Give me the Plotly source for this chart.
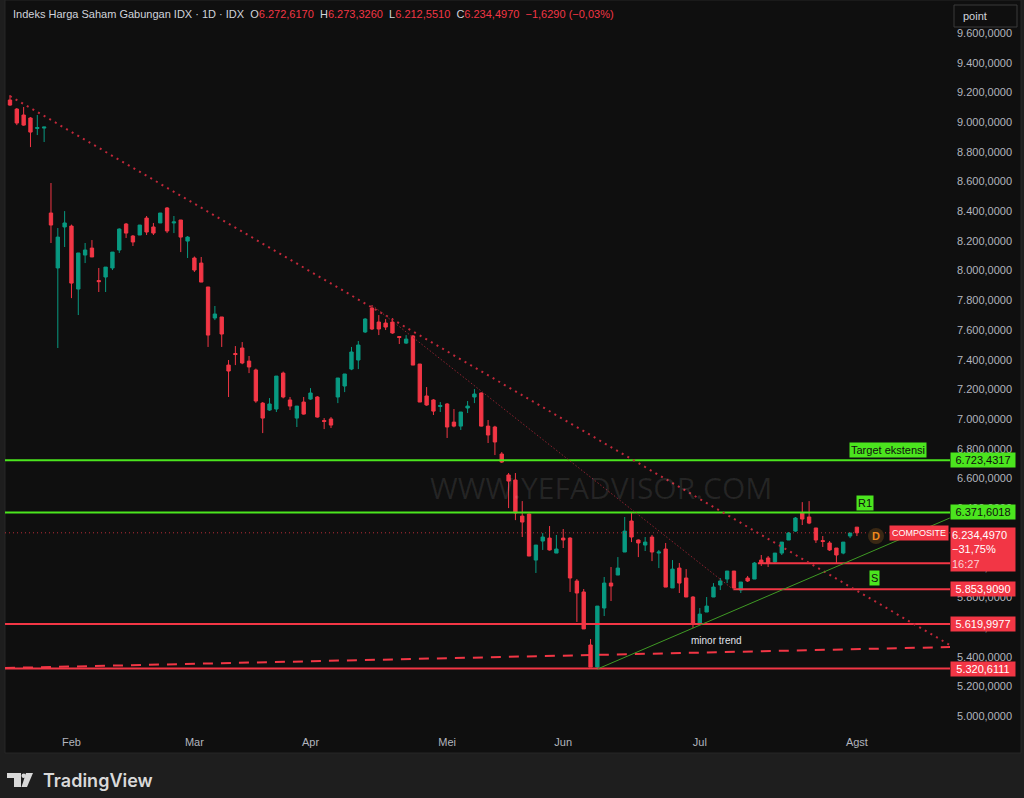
import plotly.graph_objects as go

# ---- data (IHSG daily) ----
opens = [9149, 9088, 9048, 9028, 8957, 8960, 8388, 8018, 8294, 8300,
         7876, 8105, 8152, 7933, 7957, 8018, 8139, 8314, 8233, 8240,
         8354, 8294, 8321, 8422, 8321, 8341, 8199, 8085, 8051, 7890,
         7681, 7688, 7364, 7442, 7479, 7391, 7331, 7108, 7061, 7068,
         7310, 7129, 7007, 7115, 7135, 7149, 6991, 7001, 7149, 7223,
         7337, 7398, 7587, 7748, 7654, 7647, 7654, 7556, 7512, 7560,
         7371, 7156, 7129, 7085, 7102, 6980, 6953, 7075, 7149, 7176,
         6953, 6947, 6765, 6624, 6590, 6347, 6361, 6051, 6179, 6199,
         6098, 6199, 6199, 5910, 5836, 5479, 5330, 5728, 5896, 5950,
         6105, 6314, 6186, 6152, 6206, 6098, 6125, 5863, 5997, 5930,
         5802, 5627, 5701, 5802, 5883, 5923, 5977, 5849, 5930, 5923,
         6051, 6065, 6038, 6098, 6186, 6246, 6368, 6341, 6267, 6182,
         6166, 6132, 6098, 6213, 6272.617]
highs = [9182, 9095, 9102, 9034, 9048, 8967, 8590, 8287, 8401, 8310,
         8119, 8186, 8206, 8018, 8024, 8125, 8285, 8321, 8240, 8307,
         8368, 8321, 8388, 8428, 8368, 8341, 8233, 8095, 8092, 7890,
         7762, 7688, 7398, 7492, 7519, 7425, 7340, 7115, 7142, 7290,
         7320, 7149, 7088, 7149, 7209, 7155, 7007, 7014, 7277, 7304,
         7486, 7526, 7680, 7768, 7701, 7674, 7681, 7556, 7566, 7566,
         7371, 7216, 7135, 7115, 7108, 7068, 7048, 7122, 7203, 7180,
         6994, 6955, 6778, 6637, 6637, 6448, 6365, 6152, 6233, 6280,
         6220, 6260, 6205, 5923, 5856, 5519, 5741, 5937, 6004, 6071,
         6341, 6368, 6190, 6206, 6220, 6119, 6166, 6051, 6031, 5990,
         5808, 5728, 5802, 5896, 5930, 5977, 5977, 5903, 5944, 6038,
         6085, 6078, 6098, 6172, 6240, 6341, 6441, 6448, 6267, 6213,
         6179, 6132, 6172, 6233, 6273.326]
lows = [9110, 8980, 8975, 8832, 8913, 8866, 8186, 7479, 8159, 7815,
        7701, 8051, 8092, 7856, 7856, 8004, 8119, 8220, 8166, 8240,
        8240, 8240, 8321, 8253, 8253, 8125, 8085, 7991, 7923, 7486,
        7667, 7486, 7149, 7364, 7370, 7310, 7110, 6906, 7055, 7048,
        7140, 7061, 6947, 7030, 7130, 7010, 6933, 6940, 7108, 7182,
        7330, 7337, 7580, 7600, 7566, 7600, 7575, 7506, 7506, 7364,
        7115, 7090, 7028, 7048, 6873, 6945, 6927, 7041, 7108, 6950,
        6839, 6758, 6705, 6401, 6320, 6206, 6078, 5964, 6119, 6115,
        6098, 6132, 5836, 5634, 5587, 5330, 5317, 5674, 5775, 5950,
        6105, 6172, 6071, 6112, 6044, 5997, 5869, 5863, 5829, 5802,
        5593, 5620, 5701, 5802, 5849, 5896, 5863, 5829, 5903, 5923,
        6011, 6004, 6031, 6085, 6186, 6240, 6287, 6293, 6166, 6139,
        6112, 6031, 6090, 6199, 6212.551]
closes = [9115, 8994, 8980, 8933, 8964, 8967, 8307, 8226, 8321, 7916,
          8119, 8139, 8092, 7926, 8024, 8125, 8280, 8253, 8193, 8307,
          8260, 8253, 8388, 8267, 8328, 8226, 8226, 8004, 7923, 7566,
          7708, 7573, 7324, 7435, 7378, 7351, 7122, 7007, 7102, 7290,
          7149, 7088, 7088, 7034, 7176, 7014, 6984, 6960, 7277, 7304,
          7452, 7499, 7674, 7607, 7607, 7620, 7580, 7550, 7539, 7364,
          7115, 7095, 7054, 7092, 6947, 6953, 7048, 7088, 7169, 6953,
          6893, 6846, 6711, 6583, 6368, 6307, 6078, 6152, 6206, 6119,
          6125, 6186, 5930, 5829, 5587, 5330, 5741, 5896, 5876, 5997,
          6246, 6206, 6166, 6172, 6105, 6105, 5869, 5990, 5896, 5802,
          5627, 5687, 5741, 5869, 5910, 5977, 5863, 5903, 5910, 6031,
          6031, 6031, 6098, 6172, 6233, 6334, 6327, 6300, 6186, 6176,
          6119, 6085, 6172, 6233, 6234.497]

months = ["Feb", "Mar", "Apr", "Mei", "Jun", "Jul", "Agst"]
month_start = [9, 27, 44, 64, 81, 101, 124]

green_levels = [6723.4317, 6371.6018]
red_levels = [5619.9977, 5320.6111]
support_level = 5853.9090
support_level_2 = 6029
last_price = 6234.497

y_ticks = list(range(5000, 9601, 200))

# ---- layout helpers ----
W, H = 1024, 798
ML, MR, MT, MB = 5, 74, 28, 70
PW, PH = W - ML - MR, H - MT - MB
X_RANGE = [-0.73, 137.63]
Y_RANGE = [4920, 9634]

RED = "#f23645"
GREEN_C = "#089981"
LIME = "#4be51e"
GREY = "#b2b5be"
FONT = "Liberation Sans, Arial, sans-serif"


def px_x(p):
    return (p - ML) / PW


def px_y(p):
    return (H - MB - p) / PH


def idn(v, d=4):
    s = f"{v:,.{d}f}"
    return s.replace(",", "_").replace(".", ",").replace("_", ".")


def label(px, py, text, size=11, color="#d1d4dc", xa="center", **kw):
    # text placed by pixel position, anchors fixed (paper 'auto' anchors shift it)
    return dict(xref="paper", yref="paper", x=px_x(px), y=px_y(py), text=text,
                xanchor=xa, yanchor="middle", showarrow=False,
                font=dict(family=kw.pop("family", FONT), size=size, color=color,
                          weight=kw.pop("weight", "normal")), **kw)


x = list(range(len(opens)))

fig = go.Figure()
fig.add_trace(go.Candlestick(
    x=x, open=opens, high=highs, low=lows, close=closes,
    increasing=dict(line=dict(color=GREEN_C, width=1), fillcolor=GREEN_C),
    decreasing=dict(line=dict(color=RED, width=1), fillcolor=RED),
    whiskerwidth=0, showlegend=False, hoverinfo="skip",
))

shapes = []
# chart panel
shapes.append(dict(type="rect", xref="paper", yref="paper", layer="below",
                   x0=px_x(5), x1=px_x(1021), y0=px_y(0), y1=px_y(753),
                   fillcolor="#0f0f0f", line=dict(color="#262626", width=1)))
# "point" box
shapes.append(dict(type="rect", xref="paper", yref="paper",
                   x0=px_x(954), x1=px_x(1017), y0=px_y(5), y1=px_y(27),
                   fillcolor="#0f0f0f", line=dict(color="#3a3a3a", width=1)))

for lv in green_levels:
    shapes.append(dict(type="line", xref="x", yref="y", x0=X_RANGE[0], x1=X_RANGE[1],
                       y0=lv, y1=lv, line=dict(color=LIME, width=2)))
for lv in red_levels:
    shapes.append(dict(type="line", xref="x", yref="y", x0=X_RANGE[0], x1=X_RANGE[1],
                       y0=lv, y1=lv, line=dict(color=RED, width=2)))
shapes.append(dict(type="line", xref="x", yref="y", x0=105.9, x1=X_RANGE[1],
                   y0=support_level, y1=support_level, line=dict(color=RED, width=2)))
shapes.append(dict(type="line", xref="x", yref="y", x0=109.5, x1=X_RANGE[1],
                   y0=support_level_2, y1=support_level_2, line=dict(color=RED, width=2)))
# last price line
shapes.append(dict(type="line", xref="x", yref="y", x0=X_RANGE[0], x1=X_RANGE[1],
                   y0=last_price, y1=last_price,
                   line=dict(color="rgba(242,54,69,0.75)", width=1, dash="1px,3px")))
# main downtrend (dotted)
shapes.append(dict(type="line", xref="x", yref="y", x0=0, x1=137.6, y0=9176, y1=5479,
                   line=dict(color="#c2283a", width=2, dash="2px,4.5px")))
# secondary fine downtrend
shapes.append(dict(type="line", xref="x", yref="y", x0=53, x1=106, y0=7768, y1=5849,
                   line=dict(color="#8e2230", width=1, dash="1.5px,2px")))
# dashed long-term line
shapes.append(dict(type="line", xref="x", yref="y", x0=X_RANGE[0], x1=X_RANGE[1],
                   y0=5324, y1=5465, line=dict(color=RED, width=2, dash="10px,8px")))
# minor trend
shapes.append(dict(type="line", xref="x", yref="y", x0=86, x1=137.6, y0=5317, y1=6334,
                   line=dict(color="#3f9a24", width=1)))
# "D" circle
shapes.append(dict(type="circle", xref="paper", yref="paper",
                   x0=px_x(868), x1=px_x(884), y0=px_y(528), y1=px_y(544),
                   fillcolor="#3a2814", line=dict(width=0)))
# TradingView logo
logo_t = [(7, 773), (21, 773), (21, 787), (14, 787), (14, 778), (7, 778)]
logo_v = [(26, 773), (33, 773), (27, 787), (21.5, 787)]
for poly in (logo_t, logo_v):
    path = "M " + " L ".join(f"{px_x(a)},{px_y(b)}" for a, b in poly) + " Z"
    shapes.append(dict(type="path", xref="paper", yref="paper", path=path,
                       fillcolor="#d9d9d9", line=dict(width=0)))
shapes.append(dict(type="circle", xref="paper", yref="paper",
                   x0=px_x(21.5), x1=px_x(26), y0=px_y(773.5), y1=px_y(778),
                   fillcolor="#d9d9d9", line=dict(width=0)))

ann = []
hdr = ("Indeks Harga Saham Gabungan IDX · 1D · IDX  "
       f"O<span style='color:{RED}'>6.272,6170</span>  "
       f"H<span style='color:{RED}'>6.273,3260</span>  "
       f"L<span style='color:{RED}'>6.212,5510</span>  "
       f"C<span style='color:{RED}'>6.234,4970</span>  "
       f"<span style='color:{RED}'>−1,6290 (−0,03%)</span>")
ann.append(label(11, 14, hdr, xa="left"))
ann.append(label(961, 16, "point", xa="left"))
ann.append(label(601, 487, "WWW.YEFADVISOR.COM", size=30,
                 color="rgba(255,255,255,0.09)", family="Open Sans, sans-serif"))

# right-axis price labels
for lv in green_levels:
    ann.append(dict(xref="paper", yref="y", x=1.0, y=lv, text=idn(lv),
                    xanchor="left", yanchor="middle",
                    showarrow=False, bgcolor=LIME, width=62, borderpad=1,
                    font=dict(family=FONT, size=11, color="#0f0f0f")))
for lv in [support_level] + red_levels:
    ann.append(dict(xref="paper", yref="y", x=1.0, y=lv, text=idn(lv),
                    xanchor="left", yanchor="middle",
                    showarrow=False, bgcolor=RED, width=62, borderpad=1,
                    font=dict(family=FONT, size=11, color="#ffffff")))
# last price box
ann.append(dict(xref="paper", yref="paper", x=1.0, y=px_y(527),
                text=idn(last_price) + "<br>−31,75%<br><span style='color:#fbd0d4'>16:27</span>",
                xanchor="left", yanchor="top", align="left", showarrow=False,
                bgcolor=RED, width=62, borderpad=1,
                font=dict(family=FONT, size=11, color="#ffffff")))
ann.append(dict(xref="paper", yref="y", x=px_x(889), y=last_price, text="COMPOSITE",
                xanchor="left", yanchor="middle", showarrow=False, bgcolor=RED,
                borderpad=2, font=dict(family=FONT, size=9, color="#ffffff")))
ann.append(label(876, 536, "<b>D</b>", color="#f0891c"))

# drawing labels
ann.append(dict(xref="x", yref="y", x=128.5, y=6795, text="Target ekstensi",
                showarrow=False, bgcolor=LIME, borderpad=1,
                font=dict(family=FONT, size=11, color="#0f0f0f")))
ann.append(dict(xref="x", yref="y", x=125.2, y=6435, text="R1", showarrow=False,
                bgcolor=LIME, borderpad=1, font=dict(family=FONT, size=11, color="#0f0f0f")))
ann.append(dict(xref="x", yref="y", x=126.6, y=5930, text="S", showarrow=False,
                bgcolor=LIME, borderpad=1, font=dict(family=FONT, size=11, color="#0f0f0f")))
ann.append(dict(xref="x", yref="y", x=103.4, y=5506, text="minor trend", showarrow=False,
                font=dict(family=FONT, size=10, color="#e0e3eb")))

ann.append(label(41, 781, "TradingView", size=18, color="#d9d9d9", xa="left",
                 family="Inter, sans-serif", weight=600))

fig.update_layout(
    width=W, height=H,
    margin=dict(l=ML, r=MR, t=MT, b=MB),
    paper_bgcolor="#1e1e1e", plot_bgcolor="rgba(0,0,0,0)",
    shapes=shapes, annotations=ann,
    xaxis=dict(range=X_RANGE, rangeslider=dict(visible=False), showgrid=False,
               zeroline=False, showline=False, ticks="", tickvals=month_start,
               ticktext=months, ticklabelstandoff=6,
               tickfont=dict(family=FONT, size=11, color=GREY)),
    yaxis=dict(range=Y_RANGE, side="right", showgrid=False, zeroline=False,
               showline=False, ticks="", tickvals=y_ticks,
               ticktext=[idn(v) for v in y_ticks], ticklabelstandoff=6,
               tickfont=dict(family=FONT, size=11, color=GREY)),
    hovermode=False,
)

# the page's default body margin would push the figure 8px off the corner
fig.write_html("out.html", config={"displayModeBar": False},
               post_script="document.body.style.margin='0';")
